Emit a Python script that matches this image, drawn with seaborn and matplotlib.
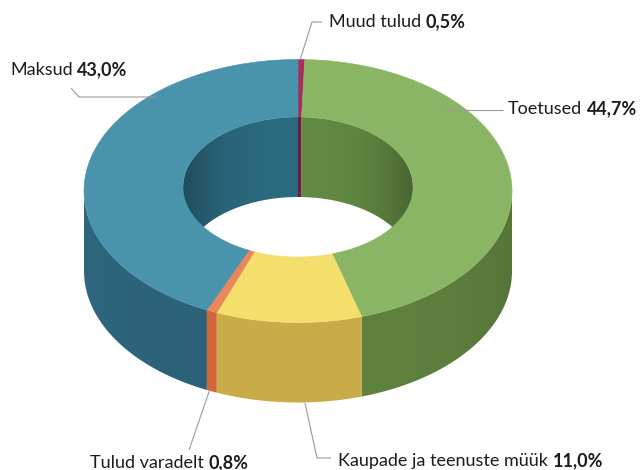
import numpy as np
import matplotlib
matplotlib.use("Agg")
import matplotlib.pyplot as plt
import matplotlib.colors as mcolors
from matplotlib.patches import Polygon
import seaborn as sns

# ---------------- data ----------------
categories = ["Muud tulud", "Toetused", "Kaupade ja teenuste müük", "Tulud varadelt", "Maksud"]
values = [0.5, 44.7, 11.0, 0.8, 43.0]
top_colors = ["#a3305c", "#8ab565", "#f4df6d", "#e9865b", "#4a93ad"]
side_colors = ["#7f2245", "#5f813e", "#c9ac48", "#d1663b", "#2c6278"]
inner_colors = ["#6e1d3c", "#628a42", "#b89a3c", "#b85530", "#2b6a7f"]

# ---------------- style ----------------
sns.set_theme(style="white")
plt.rcParams['font.family'] = ['Lato', 'DejaVu Sans']

top_pal = sns.color_palette(top_colors)
side_pal = sns.color_palette(side_colors)
inner_pal = sns.color_palette(inner_colors)

fig = plt.figure(figsize=(6.42, 4.70), dpi=100)
ax = fig.add_axes([0, 0, 1, 1])

# geometry of projected donut (layout)
cx = 298.0
cy_out, a_out, b_out = 191.0, 214.0, 131.5
cy_in, a_in, b_in = 187.0, 115.0, 70.0
depth = 80.0


def pt(theta, a, b, cy, dz=0.0):
    return (cx + a * np.sin(theta), cy - b * np.cos(theta) + dz)


def wall(t0, t1, a, b, cy, col, ffun):
    n = max(3, int(np.degrees(t1 - t0)) * 2)
    ts = np.linspace(t0, t1, n + 1)
    topc = [pt(t, a, b, cy) for t in ts]
    botc = [pt(t, a, b, cy, depth) for t in ts[::-1]]
    poly = Polygon(topc + botc, closed=True, facecolor='none', edgecolor='none')
    ax.add_patch(poly)
    xs = [p[0] for p in topc + botc]
    ys = [p[1] for p in topc + botc]
    x0, x1 = min(xs) - 1, max(xs) + 1
    y0, y1 = min(ys) - 1, max(ys) + 1
    W = max(4, int((x1 - x0) * 2))
    xx = np.linspace(x0, x1, W)
    s = np.clip((xx - cx) / a, -1, 1)
    base = np.array(mcolors.to_rgb(col))
    f = ffun(s)
    img = np.clip(base[None, :] * f[:, None], 0, 1)[None, :, :]
    im = ax.imshow(img, extent=(x0, x1, y1, y0), aspect='auto',
                   interpolation='bilinear', zorder=1)
    im.set_clip_path(poly)


def f_inner(s):
    return 1.0 - 0.28 * np.abs(s) ** 3


def f_side(s):
    return 1.0 - 0.10 * np.clip(s, 0, None) ** 4 + 0.05 * np.clip(-s, 0, None) ** 4


vals = np.array(values, dtype=float)
frac = vals / vals.sum()
ends = np.cumsum(frac) * 2 * np.pi
starts = ends - frac * 2 * np.pi

# ---- inner wall (back half, visible through the hole) ----
for s, e, col in zip(starts, ends, inner_pal):
    for lo, hi in [(0.0, np.pi / 2), (1.5 * np.pi, 2 * np.pi)]:
        s2, e2 = max(s, lo), min(e, hi)
        if e2 > s2:
            wall(s2, e2, a_in, b_in, cy_in, col, f_inner)

# ---- outer side wall (front half) ----
for s, e, col in zip(starts, ends, side_pal):
    s2, e2 = max(s, np.pi / 2), min(e, 1.5 * np.pi)
    if e2 > s2:
        wall(s2, e2, a_out, b_out, cy_out, col, f_side)

# ---- top face ----
for s, e, col in zip(starts, ends, top_pal):
    n = max(3, int(np.degrees(e - s)) * 2)
    ts = np.linspace(s, e, n + 1)
    outer = [pt(t, a_out, b_out, cy_out) for t in ts]
    inner = [pt(t, a_in, b_in, cy_in) for t in ts[::-1]]
    ax.add_patch(Polygon(outer + inner, closed=True, facecolor=col, edgecolor=col,
                         lw=0.4, zorder=2))

ax.set_xlim(0, 642)
ax.set_ylim(470, 0)
ax.axis('off')

# ---------------- labels ----------------
def pct(v):
    return f"{v:.1f}".replace(".", ",") + "%"

label_layout = {
    "Muud tulud": dict(xy=(329, 22), line=[(300, 60), (312, 22), (322, 22)]),
    "Toetused": dict(xy=(508, 109), line=[(443, 110), (503, 110)]),
    "Kaupade ja teenuste müük": dict(xy=(338, 461), line=[(305, 403), (317, 458), (331, 458)]),
    "Tulud varadelt": dict(xy=(90, 463), line=[(210, 389), (189, 450)]),
    "Maksud": dict(xy=(10, 70), line=[(156, 97), (79, 97), (71, 88)]),
}

txt_col = "#1c1c1c"
line_col = "#9a9a9a"
fs = 13
for name, v in zip(categories, values):
    lay = label_layout[name]
    xs, ys = zip(*lay["line"])
    ax.plot(xs, ys, color=line_col, lw=0.8, solid_capstyle='butt', zorder=3)
    t = ax.text(lay["xy"][0], lay["xy"][1], name, fontsize=fs, color=txt_col,
                ha='left', va='center', zorder=4)
    ax.annotate(pct(v), xy=(1, 0), xycoords=t, xytext=(3.2, 0), textcoords='offset points',
                fontsize=fs, fontweight='bold', color=txt_col, ha='left', va='bottom', zorder=4)

fig.savefig("out.png", dpi=100, facecolor="white")
